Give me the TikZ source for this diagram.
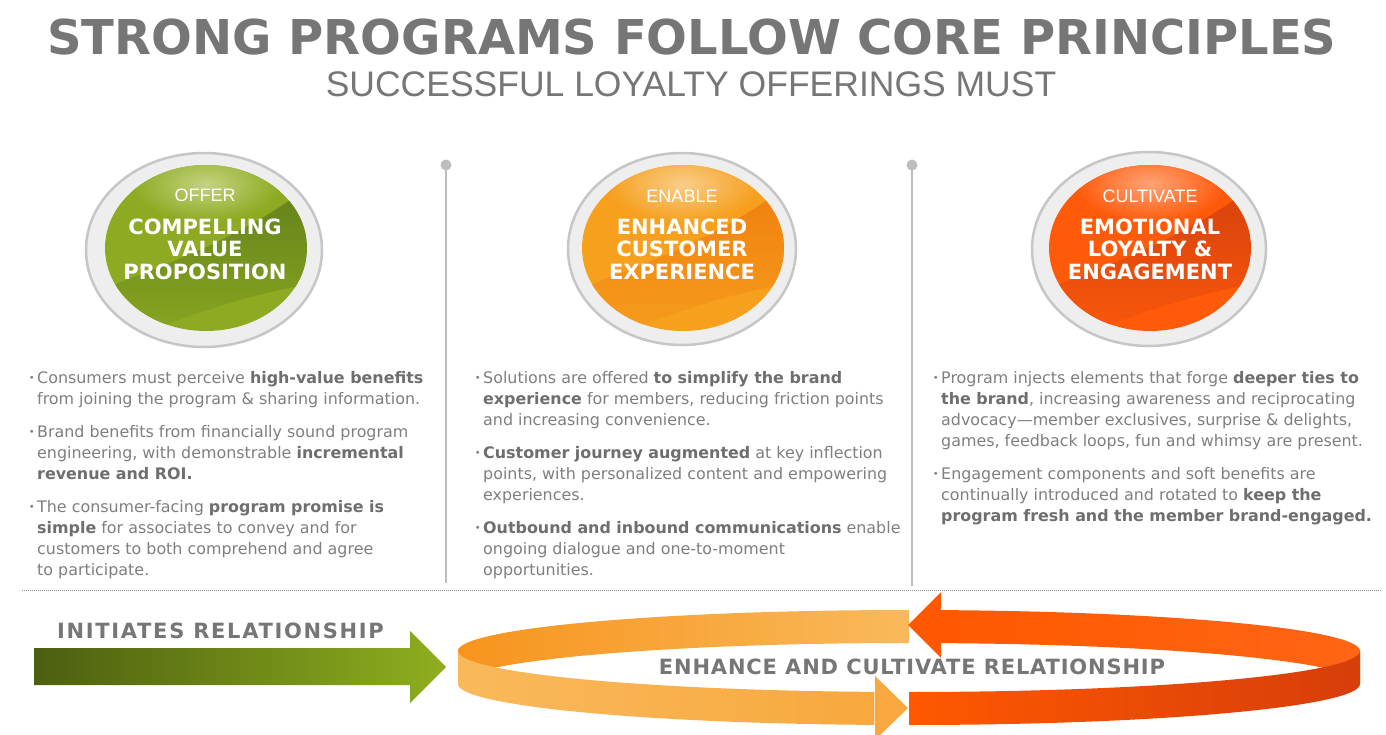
\documentclass[tikz,border=0pt]{standalone}
\usepackage{fontspec}
\setmainfont{DejaVu Sans}
\newfontfamily\thinfont{Liberation Sans}
\usetikzlibrary{shapes.geometric}

\definecolor{txtgray}{HTML}{7F7F7F}
\definecolor{boldgray}{HTML}{6E6E6E}
\definecolor{titlegray}{HTML}{767676}
\definecolor{ringgray}{HTML}{C6C6C6}
\definecolor{ringfill}{HTML}{EEEEEE}
\definecolor{divgray}{HTML}{BDBDBD}
\definecolor{greenbase}{HTML}{8DAA22}
\definecolor{greenlight}{HTML}{C3D37F}
\definecolor{greendark}{HTML}{62801A}
\definecolor{orangebase}{HTML}{F6A01E}
\definecolor{orangelight}{HTML}{F9CD8A}
\definecolor{orangedark}{HTML}{F07E0E}
\definecolor{redbase}{HTML}{FF5A0A}
\definecolor{redlight}{HTML}{FFA376}
\definecolor{reddark}{HTML}{D4400E}
\definecolor{olive}{HTML}{4C5F10}
\definecolor{lime}{HTML}{8FAE1F}
\definecolor{ringorange}{HTML}{F7941D}
\definecolor{ringpeach}{HTML}{F9B95B}
\definecolor{ringred}{HTML}{FF5800}
\definecolor{ringdeep}{HTML}{D63E0A}

\newcommand\hb[1]{{\bfseries\color{boldgray}#1}}
\newcommand\pitem{\makebox[0pt][r]{\raisebox{1.4pt}{\fontsize{10}{10}\selectfont\textbullet}\hspace{2.5pt}}}

\begin{document}
\begin{tikzpicture}[
    x=1pt, y=-1pt,
    title/.style={anchor=base, inner sep=0pt, text=titlegray,
        font=\fontsize{48}{48}\selectfont\bfseries},
    subtitle/.style={anchor=base, inner sep=0pt, text=titlegray,
        font=\thinfont\fontsize{35.5}{35.5}\selectfont},
    ring/.style={ellipse, draw=ringgray, line width=2.5pt, fill=ringfill,
        inner sep=0pt},
    badge/.style n args={3}{ellipse, inner sep=0pt,
        minimum width=202pt, minimum height=166pt,
        path picture={
            \fill[#1] (path picture bounding box.south west)
                rectangle (path picture bounding box.north east);
            \begin{scope}[shift={(path picture bounding box.center)}]
                \shade[inner color=#2, outer color=#1]
                    (0,-64) ellipse [x radius=75pt, y radius=38pt];
                \shade[top color=#3, bottom color=#1]
                    (-112,45) .. controls (-40,15) and (30,-5) .. (112,-68)
                    -- (112,35) .. controls (40,45) and (-40,75) .. (-112,105)
                    -- cycle;
            \end{scope}
        }},
    badgelabel/.style={anchor=base, inner sep=0pt, text=white,
        font=\thinfont\fontsize{18}{18}\selectfont},
    badgetext/.style={anchor=north, inner sep=0pt, align=center, text=white,
        font=\fontsize{21}{22.5}\selectfont\bfseries},
    bodytext/.style={anchor=north west, inner sep=0pt, align=left,
        text=txtgray, font=\fontsize{15.9}{21}\selectfont},
    divider/.style={draw=divgray, line width=2pt},
    bandtext/.style={inner sep=0pt, text=titlegray,
        font=\fontsize{21}{21}\selectfont\bfseries\addfontfeature{LetterSpace=#1}}
]
\useasboundingbox (0,0) rectangle (1386,735);
\fill[white] (0,0) rectangle (1386,735);

% === TITOLO ===
\node[title] (title) at (692,55) {STRONG PROGRAMS FOLLOW CORE PRINCIPLES};
\node[subtitle] (subtitle) at (691,97) {SUCCESSFUL LOYALTY OFFERINGS MUST};

% === SEPARATORI ===
\coordinate (divAtop) at (446,165);
\coordinate (divAbot) at (446,583);
\coordinate (divBtop) at (912,165);
\coordinate (divBbot) at (912,586);
\draw[divider] (divAtop) -- (divAbot);
\draw[divider] (divBtop) -- (divBbot);
\fill[divgray] (divAtop) circle[radius=5.5pt];
\fill[divgray] (divBtop) circle[radius=5.5pt];

\coordinate (rulestart) at (22,590);
\coordinate (ruleend) at (1382,590);
\draw[divgray!80!black, line width=0.7pt, dash pattern=on 1pt off 1pt] (rulestart) -- (ruleend);

% === BADGE ===
% Offer
\node[ring, minimum width=236pt, minimum height=194pt] (offerring) at (204,250) {};
\node[badge={greenbase}{greenlight}{greendark}] (offerbadge) at (206,248) {};
\node[badgelabel] (offerlbl) at (205,202) {OFFER};
\node[badgetext] (offertxt) at (205,218) {\rule{0pt}{16pt}COMPELLING\\VALUE\\PROPOSITION};

% Enable
\node[ring, minimum width=228pt, minimum height=192pt] (enablering) at (682,249) {};
\node[badge={orangebase}{orangelight}{orangedark}] (enablebadge) at (683,248) {};
\node[badgelabel] (enablelbl) at (682,203) {ENABLE};
\node[badgetext] (enabletxt) at (682,218) {\rule{0pt}{16pt}ENHANCED\\CUSTOMER\\EXPERIENCE};

% Cultivate
\node[ring, minimum width=234pt, minimum height=194pt] (cultring) at (1149,249) {};
\node[badge={redbase}{redlight}{reddark}] (cultbadge) at (1150,248) {};
\node[badgelabel] (cultlbl) at (1150,203) {CULTIVATE};
\node[badgetext] (culttxt) at (1150,218) {\rule{0pt}{16pt}EMOTIONAL\\LOYALTY \&\\ENGAGEMENT};

% === TESTI ===
\node[bodytext] (offerbody) at (37,370.5) {\rule{0pt}{12.5pt}\pitem Consumers must perceive \hb{high-value benefits}\\
from joining the program \& sharing information.\\[12pt]
\pitem Brand benefits from financially sound program\\
engineering, with demonstrable \hb{incremental}\\
\hb{revenue and ROI.}\\[12pt]
\pitem The consumer-facing \hb{program promise is}\\
\hb{simple} for associates to convey and for\\
customers to both comprehend and agree\\
to participate.};

\node[bodytext] (enablebody) at (483,370.5) {\rule{0pt}{12.5pt}\pitem Solutions are offered \hb{to simplify the brand}\\
\hb{experience} for members, reducing friction points\\
and increasing convenience.\\[12pt]
\pitem \hb{Customer journey augmented} at key inflection\\
points, with personalized content and empowering\\
experiences.\\[12pt]
\pitem \hb{Outbound and inbound communications} enable\\
ongoing dialogue and one-to-moment\\
opportunities.};

\node[bodytext] (cultbody) at (941,370.5) {\rule{0pt}{12.5pt}\pitem Program injects elements that forge \hb{deeper ties to}\\
\hb{the brand}, increasing awareness and reciprocating\\
advocacy—member exclusives, surprise \& delights,\\
games, feedback loops, fun and whimsy are present.\\[12pt]
\pitem Engagement components and soft benefits are\\
continually introduced and rotated to \hb{keep the}\\
\hb{program fresh and the member brand-engaged.}};

% === FRECCIA VERDE ===
\shade[left color=olive, right color=lime]
    (34,648) -- (410,648) -- (410,631) -- (446,667) -- (410,703)
    -- (410,685) -- (34,685) -- cycle;
\node[bandtext=8, anchor=base west] (initiates) at (57,638) {INITIATES RELATIONSHIP};

% === ANELLO ===
\coordinate (ringtop) at (909,651);
\coordinate (ringbot) at (909,684);

% retro, parte arancione
\shade[left color=ringorange, right color=ringpeach]
    ([xshift=-451pt]ringtop) arc[start angle=180, end angle=90, x radius=451pt, y radius=41pt]
    -- ([yshift=41pt]ringbot) arc[start angle=90, end angle=180, x radius=451pt, y radius=41pt]
    -- cycle;
% retro, parte rossa
\shade[left color=ringred, right color=ringred!92!white]
    ([xshift=31.5pt,yshift=40.9pt]ringtop) arc[start angle=86, end angle=0, x radius=451pt, y radius=41pt]
    -- ([xshift=451pt]ringbot) arc[start angle=0, end angle=86, x radius=451pt, y radius=41pt]
    -- cycle;
\fill[ringred] (941,592) -- (908,625) -- (941,658) -- cycle;

% fronte, parte arancione
\shade[left color=ringpeach, right color=ringpeach!55!ringorange]
    ([xshift=-451pt]ringtop) arc[start angle=180, end angle=265.6, x radius=451pt, y radius=41pt]
    -- ([xshift=-34.6pt,yshift=-40.9pt]ringbot) arc[start angle=265.6, end angle=180, x radius=451pt, y radius=41pt]
    -- cycle;
\fill[ringpeach!55!ringorange] (875,676) -- (908,708) -- (875,740) -- cycle;
% fronte, parte rossa
\shade[left color=ringred, right color=ringdeep]
    ([yshift=-41pt]ringtop) arc[start angle=270, end angle=360, x radius=451pt, y radius=41pt]
    -- ([xshift=451pt]ringbot) arc[start angle=360, end angle=270, x radius=451pt, y radius=41pt]
    -- cycle;

\node[bandtext=4, anchor=base] (enhance) at (912,674) {ENHANCE AND CULTIVATE RELATIONSHIP};

\end{tikzpicture}
\end{document}
